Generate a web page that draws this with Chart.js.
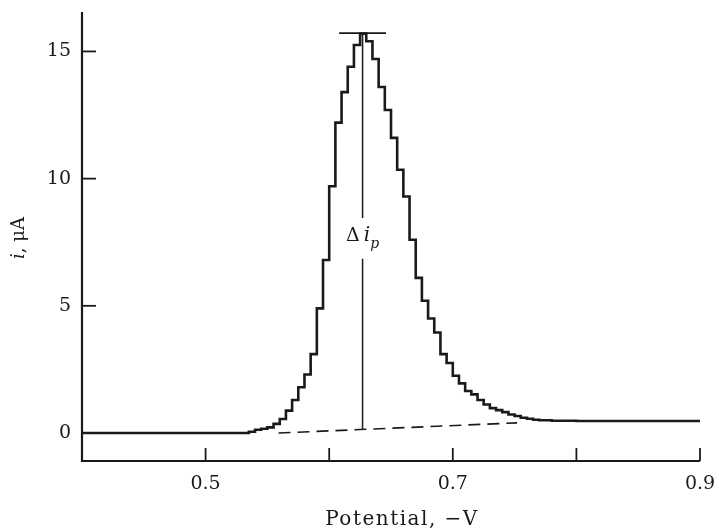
<!DOCTYPE html>
<html>
<head>
<meta charset="utf-8">
<script src="https://cdn.jsdelivr.net/npm/chart.js@4.4.1/dist/chart.umd.min.js"></script>
<style>
  html, body { margin: 0; padding: 0; background: #fff; }
  canvas { display: block; }
</style>
</head>
<body>
<canvas id="dpp" width="719" height="528"></canvas>
<script>
// differential pulse polarogram, stepped current vs potential
var potential = [0.40, 0.45, 0.50, 0.535, 0.540, 0.545, 0.550, 0.555, 0.560, 0.565, 0.570, 0.575,
    0.580, 0.585, 0.590, 0.595, 0.600, 0.605, 0.610, 0.615, 0.620, 0.625, 0.630, 0.635,
    0.640, 0.645, 0.650, 0.655, 0.660, 0.665, 0.670, 0.675, 0.680, 0.685, 0.690, 0.695,
    0.700, 0.705, 0.710, 0.715, 0.720, 0.725, 0.730, 0.735, 0.740, 0.745, 0.750, 0.755,
    0.760, 0.765, 0.770, 0.780, 0.800, 0.850, 0.900]
var current = [0.0, 0.0, 0.0, 0.05, 0.13, 0.17, 0.22, 0.36, 0.55, 0.88, 1.3, 1.8,
    2.3, 3.1, 4.9, 6.8, 9.7, 12.2, 13.4, 14.4, 15.25, 15.7, 15.4, 14.7,
    13.6, 12.7, 11.6, 10.35, 9.3, 7.6, 6.1, 5.2, 4.5, 3.95, 3.1, 2.75,
    2.25, 1.95, 1.65, 1.52, 1.3, 1.12, 0.98, 0.9, 0.82, 0.73, 0.67, 0.6,
    0.56, 0.52, 0.5, 0.48, 0.47, 0.47, 0.47]

// dashed baseline under the peak
var baseX = [0.559, 0.752]
var baseY = [0.0, 0.4]

// peak marker and delta i_p line (null = gap for the label)
var peakBarX = [0.608, 0.646]
var peakBarY = [15.72, 15.72]
var deltaX = [0.627, 0.627, 0.627, 0.627, 0.627]
var deltaY = [15.7, 8.45, null, 6.85, 0.14]

var xTicks = [0.5, 0.6, 0.7, 0.8, 0.9]
var xTickLabels = ['0.5', '', '0.7', '', '0.9']
var yTicks = [0, 5, 10, 15]
var yTickLabels = ['0', '5', '10', '15']

function pts(xs, ys) {
    return xs.map(function (x, i) { return { x: x, y: ys[i] } })
}

var ink = '#1a1a1a'
var serif = '"DejaVu Serif", "Liberation Serif", serif'

// axes, ticks and labels drawn by hand so the ticks point inward like the print
var axisPlugin = {
    id: 'printAxes',
    afterDraw: function (chart) {
        var ctx = chart.ctx
        var xs = chart.scales.x
        var ys = chart.scales.y
        var a = chart.chartArea
        ctx.save()
        ctx.strokeStyle = ink
        ctx.fillStyle = ink
        ctx.lineWidth = 2.2
        ctx.beginPath()
        ctx.moveTo(a.left, a.top)
        ctx.lineTo(a.left, a.bottom)
        ctx.lineTo(a.right, a.bottom)
        ctx.stroke()

        ctx.lineWidth = 1.8
        ctx.font = '19px ' + serif
        ctx.textAlign = 'right'
        ctx.textBaseline = 'middle'
        yTicks.forEach(function (v, i) {
            var py = ys.getPixelForValue(v)
            if (v !== 0) {
                ctx.beginPath()
                ctx.moveTo(a.left, py)
                ctx.lineTo(a.left + 14, py)
                ctx.stroke()
            }
            ctx.fillText(yTickLabels[i], a.left - 11, py)
        })

        ctx.font = '19px ' + serif
        ctx.textAlign = 'center'
        ctx.textBaseline = 'top'
        xTicks.forEach(function (v, i) {
            var px = xs.getPixelForValue(v)
            ctx.beginPath()
            ctx.moveTo(px, a.bottom)
            ctx.lineTo(px, a.bottom - 13)
            ctx.stroke()
            if (xTickLabels[i]) {
                ctx.fillText(xTickLabels[i], px, a.bottom + 14)
            }
        })

        // x title
        ctx.font = '20px ' + serif
        ctx.letterSpacing = '1.5px'
        ctx.textBaseline = 'alphabetic'
        ctx.fillText('Potential, \u2212V', 402, 525)
        ctx.letterSpacing = '0px'

        // y title
        ctx.save()
        ctx.translate(19, 238)
        ctx.rotate(-Math.PI / 2)
        ctx.textBaseline = 'middle'
        ctx.font = 'italic 18px ' + serif
        var w1 = ctx.measureText('i').width
        ctx.font = '18px ' + serif
        var w2 = ctx.measureText(', \u03bcA').width
        var start = -(w1 + w2) / 2
        ctx.textAlign = 'left'
        ctx.font = 'italic 18px ' + serif
        ctx.fillText('i', start, 0)
        ctx.font = '18px ' + serif
        ctx.fillText(', \u03bcA', start + w1, 0)
        ctx.restore()

        // delta i_p label
        var lx = xs.getPixelForValue(0.627)
        var ly = ys.getPixelForValue(7.75)
        ctx.textAlign = 'left'
        ctx.textBaseline = 'middle'
        ctx.font = '19px ' + serif
        var dw = ctx.measureText('\u0394').width
        ctx.font = 'italic 20px ' + serif
        var iw = ctx.measureText('i').width
        ctx.font = 'italic 14px ' + serif
        var pw = ctx.measureText('p').width
        var x0 = lx - (dw + 4 + iw + pw) / 2
        ctx.font = '19px ' + serif
        ctx.fillText('\u0394', x0, ly)
        ctx.font = 'italic 20px ' + serif
        ctx.fillText('i', x0 + dw + 4, ly)
        ctx.font = 'italic 14px ' + serif
        ctx.fillText('p', x0 + dw + 4 + iw, ly + 8)
        ctx.restore()
    }
}

var data = {
    datasets: [
        {
            label: 'current',
            data: pts(potential, current),
            stepped: true,
            borderColor: ink,
            borderWidth: 2.6,
            pointRadius: 0,
            fill: false,
        },
        {
            label: 'baseline',
            data: pts(baseX, baseY),
            borderColor: ink,
            borderWidth: 1.6,
            borderDash: [12, 7],
            pointRadius: 0,
        },
        {
            label: 'peak',
            data: pts(peakBarX, peakBarY),
            borderColor: ink,
            borderWidth: 1.8,
            pointRadius: 0,
        },
        {
            label: 'delta',
            data: pts(deltaX, deltaY),
            borderColor: ink,
            borderWidth: 1.5,
            pointRadius: 0,
            spanGaps: false,
        },
    ],
}

var config = {
    type: 'line',
    data: data,
    options: {
        responsive: false,
        animation: false,
        devicePixelRatio: 1,
        layout: { padding: { left: 82, right: 19, top: 12, bottom: 67 } },
        plugins: { legend: { display: false }, tooltip: { enabled: false } },
        scales: {
            x: { type: 'linear', min: 0.4, max: 0.9, display: false },
            y: { type: 'linear', min: -1.1, max: 16.55, display: false },
        },
    },
    plugins: [axisPlugin],
}

var canvas = document.getElementById('dpp')
var chart = new Chart(canvas, config)
</script>
</body>
</html>
